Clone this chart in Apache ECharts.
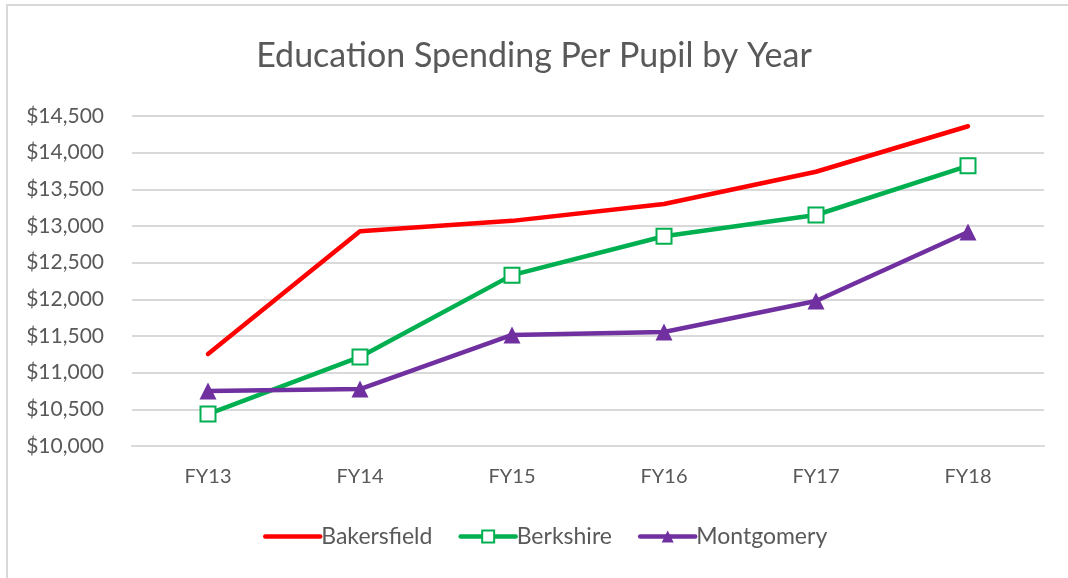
<!DOCTYPE html>
<html>
<head>
<meta charset="utf-8">
<script src="https://cdn.jsdelivr.net/npm/echarts@6/dist/echarts.min.js"></script>
<style>
  html, body { margin: 0; padding: 0; background: #fff; }
  #frame { position: absolute; left: 6px; top: 4px; width: 1068px; height: 580px;
           border-left: 2px solid #d9d9d9; border-top: 2px solid #d9d9d9; }
  #chart { position: absolute; left: 0; top: 0; width: 1068px; height: 578px; }
</style>
</head>
<body>
<div id="frame"></div>
<div id="chart"></div>
<script>
const years = ['FY13', 'FY14', 'FY15', 'FY16', 'FY17', 'FY18'];
const bakersfield = [11255, 12930, 13070, 13300, 13740, 14360];
const berkshire = [10436, 11214, 12330, 12860, 13150, 13820];
const montgomery = [10750, 10777, 11514, 11555, 11977, 12918];

const txt = '#595959';
const font = 'Lato';

let myChart = echarts.init(document.getElementById('chart'));
let option = {
  backgroundColor: 'transparent',
  textStyle: { fontFamily: font },
  title: {
    text: 'Education Spending Per Pupil by Year',
    left: 'center',
    top: 34,
    textStyle: { color: txt, fontSize: 34, fontWeight: 'normal', fontFamily: font }
  },
  legend: {
    bottom: 25,
    left: 258,
    itemWidth: 55,
    itemHeight: 15,
    itemGap: 26,
    lineStyle: { width: 4.5 },
    textStyle: { color: txt, fontSize: 23, fontFamily: font, padding: [0, 0, 0, -4] },
    data: [
      { name: 'Bakersfield', itemStyle: { opacity: 0 } },
      'Berkshire',
      'Montgomery'
    ]
  },
  grid: { left: 132, right: 24, top: 116, bottom: 132 },
  xAxis: {
    type: 'category',
    data: years,
    axisLine: { lineStyle: { color: '#d9d9d9', width: 2 } },
    axisTick: { show: false },
    axisLabel: { color: txt, fontSize: 20, margin: 21, fontFamily: font }
  },
  yAxis: {
    type: 'value',
    min: 10000,
    max: 14500,
    interval: 500,
    axisLine: { show: false },
    axisTick: { show: false },
    axisLabel: {
      color: txt, fontSize: 21, margin: 28, fontFamily: font,
      formatter: v => '$' + v.toLocaleString('en-US')
    },
    splitLine: { lineStyle: { color: '#d9d9d9', width: 2 } }
  },
  series: [
    {
      name: 'Bakersfield', type: 'line', data: bakersfield,
      symbol: 'none', lineStyle: { width: 4.5, color: '#ff0000', cap: 'round' },
      itemStyle: { color: '#ff0000' }
    },
    {
      name: 'Berkshire', type: 'line', data: berkshire,
      symbol: 'rect', symbolSize: 15, showAllSymbol: true,
      lineStyle: { width: 4.5, color: '#00b050', cap: 'round' },
      itemStyle: { color: '#ffffff', borderColor: '#00b050', borderWidth: 2 }
    },
    {
      name: 'Montgomery', type: 'line', data: montgomery,
      symbol: 'triangle', symbolSize: 17, showAllSymbol: true,
      lineStyle: { width: 4.5, color: '#7030a0', cap: 'round' },
      itemStyle: { color: '#7030a0' }
    }
  ]
};
myChart.setOption(option);
</script>
</body>
</html>
